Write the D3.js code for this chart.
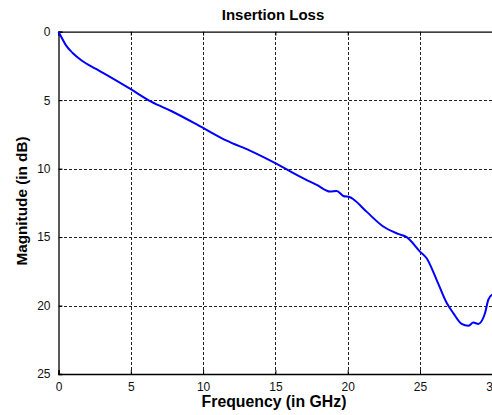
<!DOCTYPE html>
<html>
<head>
<meta charset="utf-8">
<script src="https://cdn.jsdelivr.net/npm/d3@7"></script>
<style>
  html, body { margin: 0; padding: 0; background: #fff; }
  svg { display: block; font-family: "Liberation Sans", Arial, sans-serif; }
</style>
</head>
<body>
<svg id="chart" width="492" height="415"></svg>
<script>
// Insertion loss of the channel, sampled along frequency
const freqGHz = [0, 0.15, 0.52, 0.98, 1.6, 2.6, 3.2, 5.0, 6.44, 7.83, 10.0, 11.63, 13.24,
  15.09, 15.78, 16.7, 17.86, 18.78, 19.24, 19.7, 20.16, 20.39, 21.3, 22.46, 23.5,
  24.08, 25.0, 25.46, 26.15, 26.85, 27.3, 27.88, 28.34, 28.69, 29.03, 29.5, 29.72, 30];
const lossDb = [0, 0.3, 1.0, 1.55, 2.1, 2.72, 3.08, 4.2, 5.13, 5.81, 7.03, 7.96, 8.69,
  9.66, 10.05, 10.58, 11.19, 11.68, 11.63, 12.0, 12.09, 12.24, 13.14, 14.23, 14.77,
  15.0, 16.06, 16.55, 18.12, 19.82, 20.55, 21.34, 21.48, 21.24, 21.34, 20.55, 19.58, 19.2];
const xTicks = [0, 5, 10, 15, 20, 25, 30];
const yTicks = [0, 5, 10, 15, 20, 25];

const svg = d3.select("#chart");
const m = { left: 58.5, top: 31.7, right: 492.3, bottom: 374 };

const x = d3.scaleLinear().domain([0, 30]).range([m.left, m.right]);
const y = d3.scaleLinear().domain([0, 25]).range([m.top, m.bottom]);

// dashed grid
const grid = svg.append("g").attr("stroke", "#222").attr("stroke-width", 1)
  .attr("stroke-dasharray", "3,2").attr("shape-rendering", "crispEdges");
grid.selectAll("line.gx").data(xTicks.slice(1, -1)).join("line")
  .attr("x1", d => Math.round(x(d)) + 0.5).attr("x2", d => Math.round(x(d)) + 0.5)
  .attr("y1", m.top).attr("y2", m.bottom);
grid.selectAll("line.gy").data(yTicks.slice(1, -1)).join("line")
  .attr("y1", d => Math.round(y(d)) + 0.5).attr("y2", d => Math.round(y(d)) + 0.5)
  .attr("x1", m.left).attr("x2", m.right);

// axes
const xAxis = d3.axisBottom(x).tickValues(xTicks).tickSize(-4).tickPadding(8)
  .tickFormat(d3.format("d"));
const gx = svg.append("g").attr("transform", `translate(0,${m.bottom})`).call(xAxis);
const yAxis = d3.axisLeft(y).tickValues(yTicks).tickSize(-4).tickPadding(8)
  .tickFormat(d3.format("d"));
const gy = svg.append("g").attr("transform", `translate(${m.left},0)`).call(yAxis);
// top frame edge
const gt = svg.append("g").attr("transform", `translate(0,${m.top})`)
  .call(d3.axisTop(x).tickValues(xTicks).tickSize(-4).tickFormat(""));

[gx, gy, gt].forEach(g => {
  g.select(".domain").attr("stroke", "#000").attr("stroke-width", 1.3);
  g.selectAll(".tick line").attr("stroke", "#000");
  g.selectAll(".tick text").attr("font-size", 12).attr("fill", "#111")
    .attr("font-family", "'Liberation Sans', Arial, sans-serif");
});

// curve
const line = d3.line().x((d, i) => x(freqGHz[i])).y(d => y(d)).curve(d3.curveMonotoneX);
svg.append("path").datum(lossDb)
  .attr("d", line).attr("fill", "none").attr("stroke", "#0000ff")
  .attr("stroke-width", 2).attr("stroke-linejoin", "round");

// titles
svg.append("text").attr("x", 273).attr("y", 19.5).attr("text-anchor", "middle")
  .attr("font-size", 15).attr("font-weight", "bold").text("Insertion Loss");
svg.append("text").attr("x", 274).attr("y", 407).attr("text-anchor", "middle")
  .attr("font-size", 15.8).attr("font-weight", "bold").text("Frequency (in GHz)");
svg.append("text").attr("transform", `translate(27,201) rotate(-90)`)
  .attr("text-anchor", "middle").attr("font-size", 15.3).attr("font-weight", "bold")
  .text("Magnitude (in dB)");
</script>
</body>
</html>
